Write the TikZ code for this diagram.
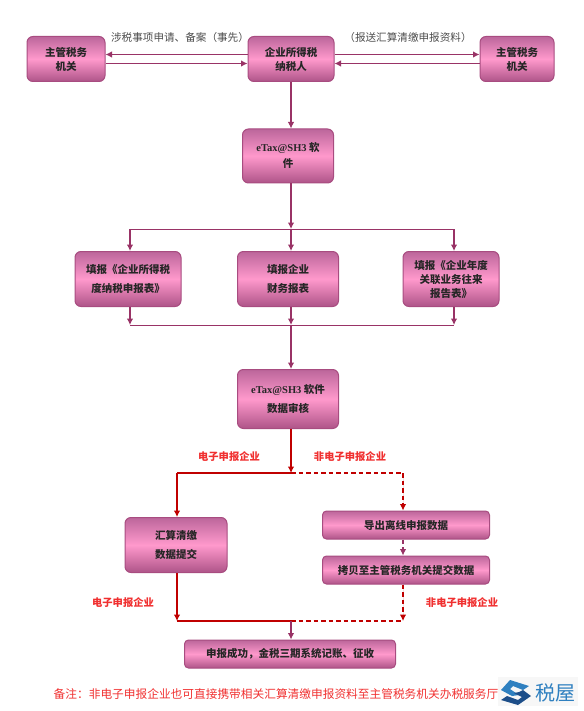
\documentclass[tikz,border=0pt]{standalone}
\usepackage{fontspec}
\setmainfont{Noto Sans CJK SC}
\newfontfamily\latinserif{Liberation Serif}
\usetikzlibrary{arrows.meta, calc}
\definecolor{boxedge}{HTML}{A84C80}
\definecolor{boxdark}{HTML}{BC669B}
\definecolor{boxlow}{HTML}{AE5488}
\definecolor{boxlight}{HTML}{FF99CC}
\definecolor{linkpurple}{HTML}{993366}
\definecolor{linkred}{HTML}{C00000}
\definecolor{notered}{HTML}{F03030}
\definecolor{logonavy}{HTML}{1D4E89}
\definecolor{logoblue}{HTML}{2F80C0}

\begin{document}
\begin{tikzpicture}[
    x=1pt, y=-1pt,
    box/.style={rounded corners=6pt, draw=boxedge, line width=1pt, top color=boxdark, bottom color=boxlow,
                middle color=boxlight, align=center, inner sep=0pt, text=black!85,
                font=\fontsize{10.5}{14}\selectfont\bfseries},
    flat/.style={box, rounded corners=4pt},
    link/.style={-{Latex[length=6.5pt,width=6.5pt]}, draw=linkpurple, line width=1.1pt},
    plain/.style={draw=linkpurple, line width=1pt},
    redlink/.style={link, draw=linkred, fill=linkred},
    redline/.style={draw=linkred, line width=1.1pt},
    offline/.style={dash pattern=on 4.5pt off 3pt},
    remark/.style={inner sep=0pt, text=black!70, font=\fontsize{10.6}{12}\selectfont},
    redtag/.style={inner sep=0pt, text=notered, font=\fontsize{10.3}{12}\selectfont\bfseries}
]
\useasboundingbox (0,0) rectangle (583,711);
\node[box, minimum width=78pt, minimum height=45pt] (orgl) at (66,59) {主管税务\\机关};
\node[box, minimum width=86pt, minimum height=45pt] (payer) at (291,59) {企业所得税\\纳税人};
\node[box, minimum width=74pt, minimum height=45pt] (orgr) at (517,59) {主管税务\\机关};
\node[box, minimum width=91pt, minimum height=54pt] (etax) at (288,156) {{\latinserif eTax@SH3} 软\\[2pt]件};
\node[box, minimum width=106pt, minimum height=55pt] (form) at (128,279) {填报《企业所得税\\[5pt]度纳税申报表》};
\node[box, minimum width=101pt, minimum height=55pt] (fin) at (288,279) {填报企业\\[5pt]财务报表};
\node[box, minimum width=96pt, minimum height=55pt] (rel) at (451,279) {填报《企业年度\\关联业务往来\\报告表》};
\node[box, minimum width=101pt, minimum height=59pt] (check) at (288,399) {{\latinserif eTax@SH3} 软件\\[5pt]数据审核};
\node[box, minimum width=102pt, minimum height=55pt] (sub) at (176,545) {汇算清缴\\[5pt]数据提交};
\node[flat, minimum width=167pt, minimum height=28pt] (off) at (406,525) {导出离线申报数据};
\node[flat, minimum width=167pt, minimum height=28pt] (copy) at (406,570) {拷贝至主管税务机关提交数据};
\node[flat, minimum width=211pt, minimum height=28pt] (done) at (290,654) {申报成功，金税三期系统记账、征收};
\coordinate (top) at (291,229);
\coordinate (mid) at (291,325);
\coordinate (split) at (291,473);
\coordinate (meet) at (291,621);
% top row
\draw[link] ([yshift=4.5pt]payer.west) -- ([yshift=4.5pt]orgl.east);
\draw[link] ([yshift=-4.5pt]orgl.east) -- ([yshift=-4.5pt]payer.west);
\draw[link] ([yshift=4.5pt]payer.east) -- ([yshift=4.5pt]orgr.west);
\draw[link] ([yshift=-4.5pt]orgr.west) -- ([yshift=-4.5pt]payer.east);
\draw[link] (payer.south) -- (payer.south |- etax.north);
% fork to the three forms
\draw[link] (top |- etax.south) -- (top);
\foreach \n/\x in {form/130,fin/291,rel/454}{
  \draw[link] (\x,229) -- (\x,0 |- \n.north);
  \draw[link] (\x,0 |- \n.south) -- (\x,325);
}
\draw[plain] (130,229) -- (454,229);
\draw[plain] (130,325) -- (454,325);
\draw[link] (mid) -- (top |- check.north);
% red branches
\draw[redlink] (top |- check.south) -- (split);
\draw[redline] (split) -- (177,473);
\draw[redlink] (177,473) -- (177,0 |- sub.north);
\draw[redline, offline] (split) -- (403,473);
\draw[redlink, offline] (403,473) -- (403,0 |- off.north);
\draw[link, offline] (403,0 |- off.south) -- (403,0 |- copy.north);
\draw[redlink] (177,0 |- sub.south) -- (177,621);
\draw[redlink, offline] (403,0 |- copy.south) -- (403,621);
\draw[redline] (177,621) -- (meet);
\draw[redline, offline] (meet) -- (403,621);
\draw[link] (meet) -- (meet |- done.north);
% labels
\node[remark] (applyt) at (180,37) {涉税事项申请、备案（事先）};
\node[remark] (sendt) at (408,37) {（报送汇算清缴申报资料）};
\node[redtag] (etaga) at (229,457) {电子申报企业};
\node[redtag] (ptaga) at (350,457) {非电子申报企业};
\node[redtag] (etagb) at (123,603) {电子申报企业};
\node[redtag] (ptagb) at (462,603) {非电子申报企业};
\node[inner sep=0pt, text=notered, font=\fontsize{11.7}{14}\selectfont] (note) at (276,694) {备注：非电子申报企业也可直接携带相关汇算清缴申报资料至主管税务机关办税服务厅};
% logo
\fill[black!3] (498,677) rectangle (578,706);
\fill[logoblue] (501,690) -- (510,680) -- (529,686) -- (523,690) -- (513,686) -- (510,689) -- (519,695) -- (512,696) -- cycle;
\fill[logonavy] (523,690) -- (531,696) -- (518,705) -- (501,700) -- (507,696) -- (518,700) -- (522,697) -- (514,693) -- (519,692) -- cycle;
\node[inner sep=0pt, text=logoblue, font=\fontsize{20}{24}\selectfont] (brand) at (555,693) {税屋};
\end{tikzpicture}
\end{document}
